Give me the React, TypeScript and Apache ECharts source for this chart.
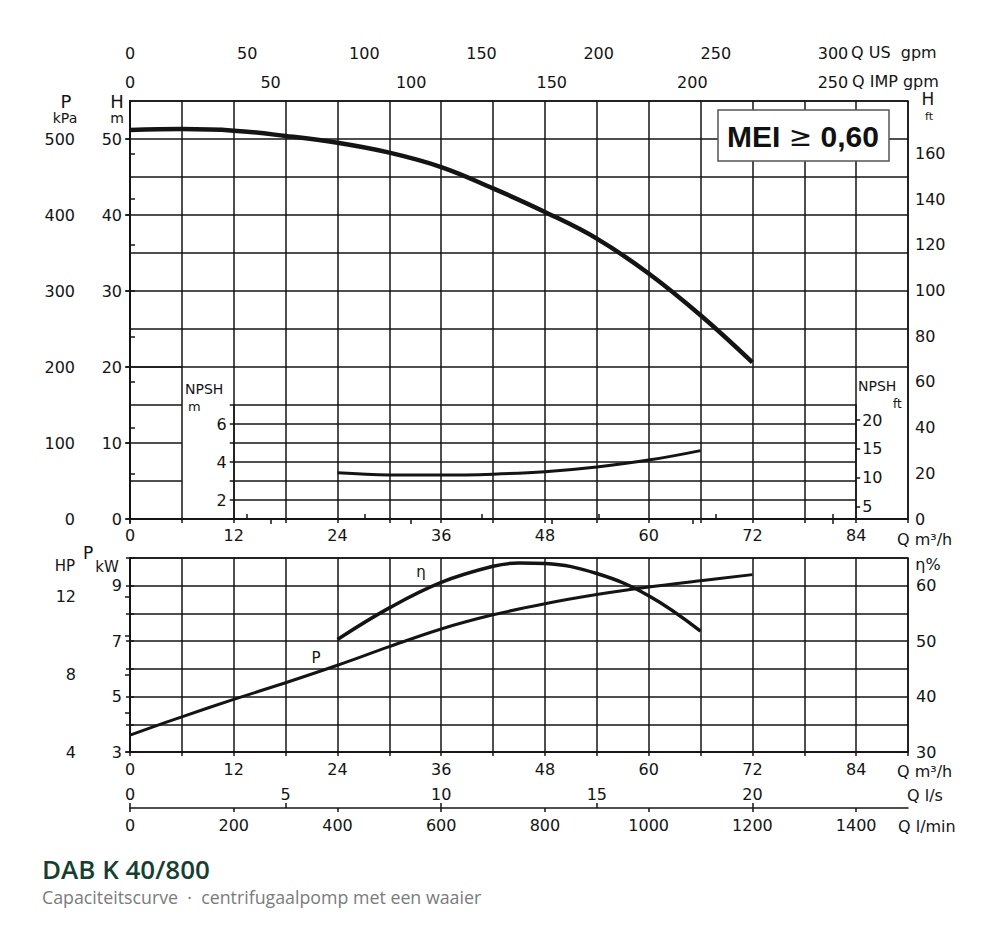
import * as echarts from "echarts";
import { useEffect, useRef } from "react";

// flow in m³/h
const headFlow = [0, 6, 12, 18, 24, 30, 36, 42, 48, 54, 60, 66, 72];
const headM = [51.2, 51.3, 51.1, 50.4, 49.5, 48.2, 46.3, 43.5, 40.4, 36.9, 32.3, 26.8, 20.6];
const npshFlow = [24, 30, 36, 42, 48, 54, 60, 66];
const npshM = [3.43, 3.32, 3.31, 3.36, 3.49, 3.74, 4.1, 4.6];
const powerFlow = [0, 6, 12, 18, 24, 30, 36, 42, 48, 54, 60, 66, 72];
const powerKw = [3.61, 4.27, 4.9, 5.5, 6.13, 6.8, 7.44, 7.95, 8.35, 8.68, 8.95, 9.18, 9.4];
const etaFlow = [24, 30, 36, 42, 45, 48, 54, 60, 66];
const etaPct = [50.3, 56.0, 60.6, 63.5, 64.1, 64.0, 62.2, 58.2, 51.8];

// tick labels
const flowTicks = [0, 12, 24, 36, 48, 60, 72, 84];
const usGpmTicks = [0, 50, 100, 150, 200, 250, 300];
const impGpmTicks = [0, 50, 100, 150, 200, 250];
const headTicks = [0, 10, 20, 30, 40, 50];
const kpaTicks = [0, 100, 200, 300, 400, 500];
const headFtTicks = [0, 20, 40, 60, 80, 100, 120, 140, 160];
const npshMTicks = [2, 4, 6];
const npshFtTicks = [5, 10, 15, 20];
const kwTicks = [3, 5, 7, 9];
const hpTicks = [4, 8, 12];
const hpMinorTicks = [4, 6, 8, 10, 12];
const etaTicks = [30, 40, 50, 60];
const lpsTicks = [0, 5, 10, 15, 20];
const lpmTicks = [0, 200, 400, 600, 800, 1000, 1200, 1400];

const ink = "#141414";
const font = "DejaVu Sans";
const LEFT = 130;
const RIGHT = 908;
const Q_MAX = 90;
const UP_TOP = 101;
const UP_BOTTOM = 519;
const H_MAX = 55;
const LOW_TOP = 558;
const LOW_BOTTOM = 752;

const qx = (q: number) => LEFT + (q * (RIGHT - LEFT)) / Q_MAX;
const hy = (h: number) => UP_BOTTOM - (h * (UP_BOTTOM - UP_TOP)) / H_MAX;

const zip = (xs: number[], ys: number[]) => xs.map((x, i) => [x, ys[i]]);

const stroke = { color: ink, width: 1.5 };
const label = { color: ink, fontFamily: font, fontSize: 16, formatter: (v: number) => String(v) };
const hidden = { show: false };

const gridLinesY = (gridIndex: number, min: number, max: number, interval: number) => ({
  type: "value",
  gridIndex,
  min,
  max,
  interval,
  axisLine: hidden,
  axisTick: hidden,
  axisLabel: hidden,
  splitLine: { show: true, lineStyle: stroke },
});

const hiddenX = (gridIndex: number, min: number, max: number) => ({ type: "value", gridIndex, min, max, show: false });

const text = (t: string, x: number, y: number, size = 16, align = "center", extra: Record<string, unknown> = {}) => ({
  type: "text",
  x,
  y,
  style: {
    text: t,
    fill: ink,
    fontFamily: font,
    fontSize: size,
    align,
    textAlign: align,
    verticalAlign: "middle",
    textVerticalAlign: "middle",
    ...extra,
  },
});

export default function App() {
  const ref = useRef<HTMLDivElement | null>(null);

  useEffect(() => {
    document.body.style.margin = "0";
    if (!ref.current) return;
    const chart = echarts.init(ref.current, null, { renderer: "svg" });
    chart.setOption({
      animation: false,
      backgroundColor: "#ffffff",
      grid: [
        { left: LEFT, top: UP_TOP, width: RIGHT - LEFT, height: UP_BOTTOM - UP_TOP, show: true, borderColor: ink, borderWidth: 1.5, backgroundColor: "transparent" },
        { left: LEFT, top: UP_TOP, width: RIGHT - LEFT, height: hy(20) - UP_TOP },
        { left: LEFT, top: hy(20), width: qx(6) - LEFT, height: UP_BOTTOM - hy(20) },
        { left: qx(12), top: hy(15), width: qx(84) - qx(12), height: UP_BOTTOM - hy(15) },
        { left: LEFT, top: LOW_TOP, width: RIGHT - LEFT, height: LOW_BOTTOM - LOW_TOP, show: true, borderColor: ink, borderWidth: 1.5, backgroundColor: "transparent" },
      ],
      xAxis: [
        {
          type: "value",
          gridIndex: 0,
          min: 0,
          max: Q_MAX,
          interval: 6,
          axisLine: { lineStyle: stroke },
          axisTick: { length: 4, lineStyle: stroke },
          axisLabel: { ...label, customValues: flowTicks, margin: 8 },
          splitLine: { show: true, lineStyle: stroke },
        },
        {
          type: "value",
          gridIndex: 0,
          position: "top",
          offset: 34,
          min: 0,
          max: 332,
          axisLine: { show: true, lineStyle: stroke },
          axisTick: { customValues: usGpmTicks, length: 5, lineStyle: stroke },
          axisLabel: { ...label, customValues: usGpmTicks, margin: 6 },
          splitLine: hidden,
        },
        {
          type: "value",
          gridIndex: 0,
          position: "top",
          offset: 34,
          min: 0,
          max: 276.7,
          axisLine: hidden,
          axisTick: { customValues: impGpmTicks, inside: true, length: 5, lineStyle: stroke },
          axisLabel: { ...label, customValues: impGpmTicks, inside: true, margin: 7 },
          splitLine: hidden,
        },
        hiddenX(1, 0, Q_MAX),
        hiddenX(2, 0, 6),
        hiddenX(3, 12, 84),
        {
          type: "value",
          gridIndex: 4,
          min: 0,
          max: Q_MAX,
          interval: 6,
          axisLine: { lineStyle: stroke },
          axisTick: { length: 4, lineStyle: stroke },
          axisLabel: { ...label, customValues: flowTicks, margin: 9 },
          splitLine: { show: true, lineStyle: stroke },
        },
        {
          type: "value",
          gridIndex: 4,
          position: "bottom",
          offset: 56,
          min: 0,
          max: 25,
          axisLine: { show: true, lineStyle: stroke },
          axisTick: { customValues: lpsTicks, inside: true, length: 5, lineStyle: stroke },
          axisLabel: { ...label, customValues: lpsTicks, inside: true, margin: 6 },
          splitLine: hidden,
        },
        {
          type: "value",
          gridIndex: 4,
          position: "bottom",
          offset: 56,
          min: 0,
          max: 1500,
          axisLine: hidden,
          axisTick: { customValues: lpmTicks, length: 4, lineStyle: stroke },
          axisLabel: { ...label, customValues: lpmTicks, margin: 9 },
          splitLine: hidden,
        },
      ],
      yAxis: [
        {
          type: "value",
          gridIndex: 0,
          min: 0,
          max: H_MAX,
          interval: 5,
          axisLine: { show: true, lineStyle: stroke },
          axisTick: { customValues: headTicks, length: 4, lineStyle: stroke },
          axisLabel: { ...label, customValues: headTicks, margin: 8 },
          splitLine: hidden,
        },
        {
          type: "value",
          gridIndex: 0,
          position: "left",
          offset: LEFT - 87,
          min: 0,
          max: 550,
          axisLine: { show: true, lineStyle: stroke },
          axisTick: { customValues: kpaTicks, length: 5, lineStyle: stroke },
          axisLabel: { ...label, customValues: kpaTicks, margin: 12 },
          splitLine: hidden,
        },
        {
          type: "value",
          gridIndex: 0,
          position: "right",
          min: 0,
          max: 183,
          axisLine: { show: true, lineStyle: stroke },
          axisTick: { customValues: headFtTicks, length: 5, lineStyle: stroke },
          axisLabel: { ...label, customValues: headFtTicks, margin: 7 },
          splitLine: hidden,
        },
        gridLinesY(1, 20, H_MAX, 5),
        gridLinesY(2, 0, 20, 5),
        {
          type: "value",
          gridIndex: 3,
          min: 1,
          max: 7,
          interval: 1,
          axisLine: { show: true, lineStyle: stroke },
          axisTick: { length: 4, lineStyle: stroke },
          axisLabel: { ...label, customValues: npshMTicks, margin: 7 },
          splitLine: { show: true, lineStyle: stroke },
        },
        {
          type: "value",
          gridIndex: 3,
          position: "right",
          min: 2.9,
          max: 22.6,
          axisLine: { show: true, lineStyle: stroke },
          axisTick: { customValues: npshFtTicks, length: 4, lineStyle: stroke },
          axisLabel: { ...label, customValues: npshFtTicks, margin: 6 },
          splitLine: hidden,
        },
        {
          type: "value",
          gridIndex: 4,
          min: 3,
          max: 10,
          interval: 1,
          axisLine: { show: true, lineStyle: stroke },
          axisTick: { length: 4, lineStyle: stroke },
          axisLabel: { ...label, customValues: kwTicks, margin: 8 },
          splitLine: { show: true, lineStyle: stroke },
        },
        {
          type: "value",
          gridIndex: 4,
          position: "left",
          offset: LEFT - 84,
          min: 4,
          max: 14,
          axisLine: { show: true, lineStyle: stroke },
          axisTick: { customValues: hpMinorTicks, length: 5, lineStyle: stroke },
          axisLabel: { ...label, customValues: hpTicks, margin: 8 },
          splitLine: hidden,
        },
        {
          type: "value",
          gridIndex: 4,
          position: "right",
          min: 30,
          max: 65,
          interval: 5,
          axisLine: { show: true, lineStyle: stroke },
          axisTick: { length: 4, lineStyle: stroke },
          axisLabel: { ...label, customValues: etaTicks, margin: 8 },
          splitLine: hidden,
        },
      ],
      series: [
        {
          name: "H",
          type: "line",
          xAxisIndex: 0,
          yAxisIndex: 0,
          data: zip(headFlow, headM),
          smooth: 0.4,
          symbol: "none",
          lineStyle: { color: ink, width: 4.5 },
          z: 5,
        },
        {
          name: "NPSH",
          type: "line",
          xAxisIndex: 5,
          yAxisIndex: 5,
          data: zip(npshFlow, npshM),
          smooth: 0.4,
          symbol: "none",
          lineStyle: { color: ink, width: 3 },
          z: 5,
        },
        {
          name: "P",
          type: "line",
          xAxisIndex: 6,
          yAxisIndex: 7,
          data: zip(powerFlow, powerKw),
          smooth: 0.4,
          symbol: "none",
          lineStyle: { color: ink, width: 3 },
          z: 5,
        },
        {
          name: "η",
          type: "line",
          xAxisIndex: 6,
          yAxisIndex: 9,
          data: zip(etaFlow, etaPct),
          smooth: 0.4,
          symbol: "none",
          lineStyle: { color: ink, width: 3.5 },
          z: 5,
        },
      ],
      graphic: [
        text("P", 66, 101, 18),
        text("kPa", 65, 118, 14),
        text("H", 117, 101, 18),
        text("m", 117, 118, 14),
        text("H", 928, 99, 17),
        text("ft", 929, 116, 11),
        text("Q US  gpm", 851, 52, 16, "left"),
        text("Q IMP gpm", 852, 81, 16, "left"),
        text("NPSH", 185, 389, 14, "left"),
        text("m", 188, 406, 13, "left"),
        text("NPSH", 858, 386, 14, "left"),
        text("ft", 893, 404, 12, "left"),
        text("Q m³/h", 897, 539, 16, "left"),
        text("HP", 65, 566, 15),
        text("P", 88, 553, 17),
        text("kW", 107, 567, 15),
        text("η%", 928, 564, 16),
        text("P", 316, 658, 15),
        text("η", 421, 572, 15),
        text("Q m³/h", 897, 771, 16, "left"),
        text("Q l/s", 907, 795, 16, "left"),
        text("Q l/min", 898, 826, 16, "left"),
        text("DAB K 40/800", 42, 869, 26, "left", { fill: "#173f31", fontFamily: "Open Sans", fontWeight: 600 }),
        text("Capaciteitscurve  ·  centrifugaalpomp met een waaier", 42, 897, 17.8, "left", { fill: "#7b7b7b", fontFamily: "Open Sans" }),
        {
          type: "rect",
          shape: { x: 718, y: 110, width: 171, height: 51 },
          style: { fill: "#ffffff", stroke: "#555555", lineWidth: 1.5 },
          z: 10,
        },
        {
          type: "text",
          x: 803,
          y: 136,
          z: 11,
          style: {
            text: "{b|MEI }{s|≥}{b| 0,60}",
            align: "center",
            textAlign: "center",
            verticalAlign: "middle",
            textVerticalAlign: "middle",
            rich: {
              b: { fontFamily: "Liberation Sans", fontWeight: "bold", fontSize: 30, fill: "#111111" },
              s: { fontFamily: "DejaVu Sans", fontWeight: "normal", fontSize: 28, fill: "#111111" },
            },
          },
        },
      ],
    });
    return () => chart.dispose();
  }, []);

  return <div ref={ref} style={{ width: 1000, height: 925 }} />;
}
